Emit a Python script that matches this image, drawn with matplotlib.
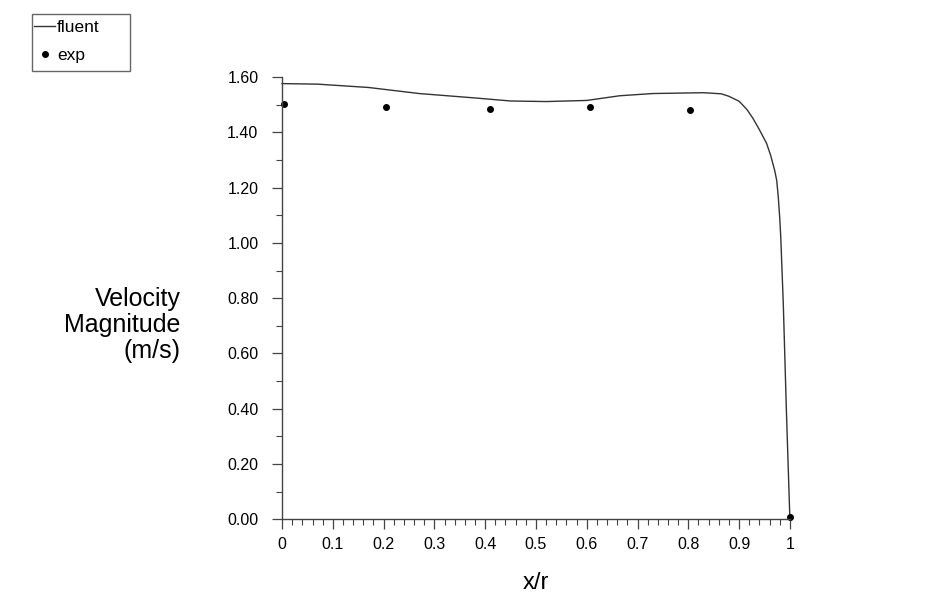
import numpy as np
import matplotlib
matplotlib.use("Agg")
import matplotlib.pyplot as plt
from matplotlib.patches import Rectangle
from matplotlib.ticker import MultipleLocator, FormatStrFormatter, FuncFormatter

# DATA

fluent_x = [0.0, 0.07, 0.17, 0.27, 0.38, 0.45, 0.52, 0.6, 0.665, 0.73, 0.83, 0.865, 0.88,
            0.9, 0.915, 0.927, 0.94, 0.954, 0.962, 0.97, 0.974, 0.977, 0.98, 0.982,
            0.987, 0.993, 1.0]
fluent_y = [1.577, 1.575, 1.563, 1.541, 1.525, 1.514, 1.512, 1.516, 1.533, 1.541, 1.544, 1.540, 1.531,
            1.513, 1.484, 1.452, 1.41, 1.361, 1.318, 1.263, 1.227, 1.17, 1.09, 1.022,
            0.78, 0.40, 0.0]

exp_x = [0.004, 0.205, 0.409, 0.606, 0.803, 1.0]
exp_y = [1.502, 1.491, 1.484, 1.491, 1.480, 0.007]

plt.rcParams['font.family'] = ['Liberation Sans', 'DejaVu Sans']

# PLOT

W, H = 937, 613
fig = plt.figure(figsize=(W / 100, H / 100), dpi=100)
ax = fig.add_axes([0.301, 0.153, 0.542, 0.721])

ax.plot(fluent_x, fluent_y, color='#333333', lw=1.0, label='fluent', clip_on=False)
ax.plot(exp_x, exp_y, 'o', color='black', ms=4, label='exp', clip_on=False)

ax.set_xlim(0, 1.0)
ax.set_ylim(0, 1.6)

ax.spines['top'].set_visible(False)
ax.spines['right'].set_visible(False)
for s in ['left', 'bottom']:
    ax.spines[s].set_color('#444444')
    ax.spines[s].set_linewidth(1.0)

ax.xaxis.set_major_locator(MultipleLocator(0.1))
ax.xaxis.set_minor_locator(MultipleLocator(0.02))
ax.yaxis.set_major_locator(MultipleLocator(0.2))
ax.yaxis.set_minor_locator(MultipleLocator(0.1))
ax.xaxis.set_major_formatter(FuncFormatter(lambda v, p: f"{v:.1f}".rstrip('0').rstrip('.') if v > 0 else "0"))
ax.yaxis.set_major_formatter(FormatStrFormatter('%.2f'))

ax.tick_params(which='major', length=7, width=0.9, color='#444444', labelsize=11.5, pad=6)
ax.tick_params(which='minor', length=4, width=0.8, color='#444444')
ax.tick_params(axis='y', pad=10)

ax.set_xlabel('x/r', fontsize=17, labelpad=14)
fig.text(0.193, 0.470, 'Velocity\nMagnitude\n(m/s)', fontsize=18, ha='right', va='center',
         linespacing=1.1)

# legend: fixed-size box like the original
box = Rectangle((32 / W, 1 - 71 / H), 98 / W, 57 / H, transform=fig.transFigure,
                fill=False, edgecolor='#666666', lw=1.0)
fig.patches.append(box)
leg = fig.legend(loc='upper left', bbox_to_anchor=(31 / W, 1 - 16 / H), fontsize=12.5,
                 handlelength=1.2, handletextpad=0.1, borderpad=0.2, labelspacing=0.75,
                 frameon=False, borderaxespad=0)

fig.savefig('out.png', dpi=100)
